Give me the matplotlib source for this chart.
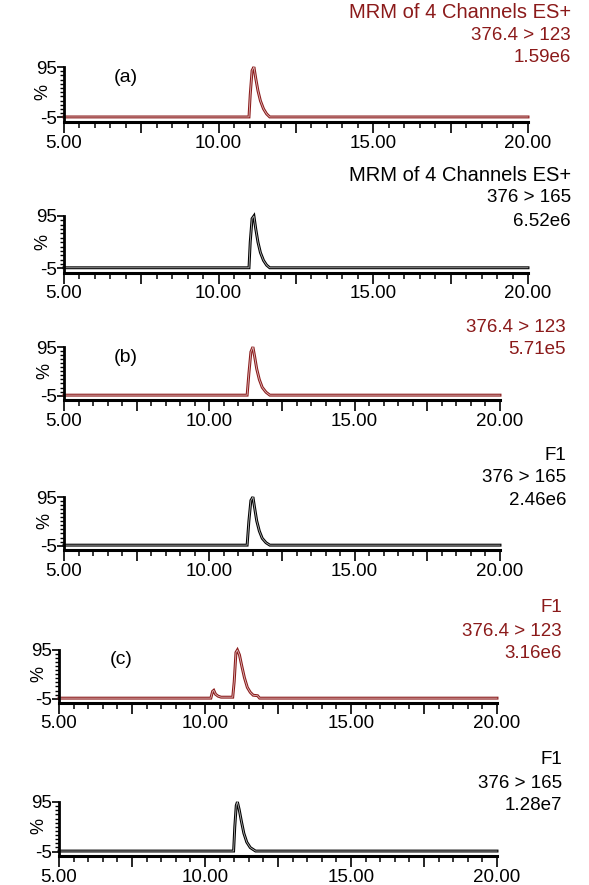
import numpy as np
import matplotlib
matplotlib.use("Agg")
import matplotlib.pyplot as plt

plt.rcParams['font.family'] = ['Liberation Sans', 'DejaVu Sans']

RED = '#8b1a1a'
BLACK = '#000000'

# chromatogram traces (retention time in min, relative intensity in %)
t_a_red = [5.0, 10.98, 11.02, 11.08, 11.14, 11.2, 11.27, 11.35, 11.45, 11.55, 11.65, 20.0]
i_a_red = [-4, -4, 40, 88, 95, 72, 48, 28, 12, 2, -4, -4]
t_a_blk = [5.0, 10.98, 11.02, 11.08, 11.14, 11.2, 11.27, 11.35, 11.45, 11.55, 11.65, 20.0]
i_a_blk = [-4, -4, 45, 90, 95, 70, 45, 25, 10, 1, -4, -4]
t_b_red = [5.0, 11.3, 11.36, 11.43, 11.5, 11.56, 11.63, 11.72, 11.82, 11.95, 12.08, 20.0]
i_b_red = [-4, -4, 40, 85, 95, 75, 50, 28, 12, 2, -4, -4]
t_b_blk = [5.0, 11.3, 11.36, 11.43, 11.5, 11.56, 11.63, 11.72, 11.82, 11.95, 12.08, 20.0]
i_b_blk = [-4, -4, 45, 88, 95, 72, 46, 25, 10, 1, -4, -4]
t_c_red = [5.0, 10.2, 10.26, 10.3, 10.36, 10.45, 10.55, 10.95, 11.0, 11.06, 11.11,
           11.18, 11.26, 11.35, 11.45, 11.55, 11.65, 11.8, 11.87, 20.0]
i_c_red = [-4, -4, 10, 12, 4, 0, -2, -2, 30, 90, 95, 85, 62, 38, 18, 8, 2, 1, -4, -4]
t_c_blk = [5.0, 10.98, 11.02, 11.07, 11.11, 11.17, 11.25, 11.33, 11.43, 11.55, 11.73, 20.0]
i_c_blk = [-4, -4, 45, 88, 95, 80, 55, 32, 14, 3, -4, -4]

headers = [
    ['MRM of 4 Channels ES+', '376.4 > 123', '1.59e6'],
    ['MRM of 4 Channels ES+', '376 > 165', '6.52e6'],
    ['376.4 > 123', '5.71e5'],
    ['F1', '376 > 165', '2.46e6'],
    ['F1', '376.4 > 123', '3.16e6'],
    ['F1', '376 > 165', '1.28e7'],
]
panel_tags = ['(a)', None, '(b)', None, '(c)', None]
traces = [(t_a_red, i_a_red, RED), (t_a_blk, i_a_blk, BLACK),
          (t_b_red, i_b_red, RED), (t_b_blk, i_b_blk, BLACK),
          (t_c_red, i_c_red, RED), (t_c_blk, i_c_blk, BLACK)]

# pixel layout: x-left, x-right, axis line y, 95% level y, header top y, header right x
layout = [
    (64, 528, 122, 67, 12, 571),
    (64, 528, 273, 216, 175, 571),
    (64, 500, 400, 347, 327, 566),
    (64, 500, 550, 497, 455, 566),
    (59, 497, 703, 650, 608, 562),
    (59, 497, 856, 802, 760, 562),
]

W, H = 589, 885
fig = plt.figure(figsize=(W / 100, H / 100), dpi=100)

for k, ((t, y, c), (x0, x1, yb, yt, hy, hx)) in enumerate(zip(traces, layout)):
    ax = fig.add_axes([x0 / W, 1 - yb / H, (x1 - x0) / W, (yb - yt) / H])
    ax.plot(t, y, color=c, lw=2.1, solid_joinstyle='miter', clip_on=False)
    ax.plot(t, y, color='white', lw=0.6, alpha=0.7, clip_on=False)
    ax.set_xlim(5, 20)
    ax.set_ylim(-14, 95)
    for s in ['top', 'right']:
        ax.spines[s].set_visible(False)
    ax.spines['left'].set_linewidth(2)
    ax.spines['bottom'].set_linewidth(2.2)
    ax.set_facecolor('none')

    ax.set_xticks(np.arange(5, 20.1, 2.5))
    ax.set_xticklabels(['5.00', '', '10.00', '', '15.00', '', '20.00'])
    ax.set_xticks(np.arange(5, 20.01, 0.5), minor=True)
    ax.tick_params(axis='x', which='major', length=8, width=1.2, labelsize=13.5, pad=1)
    ax.tick_params(axis='x', which='minor', length=4.5, width=1.1)

    ax.set_yticks([-5, 95])
    ax.set_yticklabels(['-5', '95'])
    ax.set_yticks(np.arange(-5, 95, 100 / 12), minor=True)
    ax.tick_params(axis='y', which='major', length=5, width=1.2, labelsize=13.5, pad=0)
    ax.tick_params(axis='y', which='minor', length=3, width=1.0)
    ax.text(-0.045, 0.55, '%', transform=ax.transAxes, rotation=90,
            ha='center', va='center', fontsize=13)

    for j, line in enumerate(headers[k]):
        fs = 14.5 if line.startswith('MRM') else 13.5
        fig.text(hx / W, 1 - (hy + j * 23) / H, line, ha='right', va='center',
                 fontsize=fs, color=c)

    if panel_tags[k]:
        fig.text((x0 + 62) / W, 1 - (yt + 10) / H, panel_tags[k],
                 ha='center', va='center', fontsize=14)

fig.savefig('out.png', dpi=100)
